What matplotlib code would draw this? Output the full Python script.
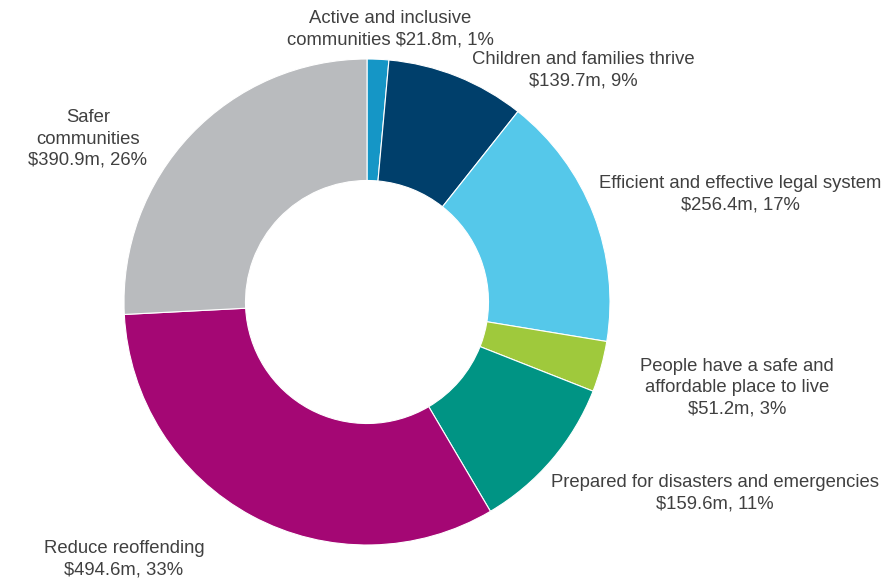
import matplotlib
matplotlib.use("Agg")
import matplotlib.pyplot as plt

# spending by outcome ($m), clockwise from the top
outcomes = ["Active and inclusive\ncommunities", "Children and families thrive",
            "Efficient and effective legal system",
            "People have a safe and\naffordable place to live",
            "Prepared for disasters and emergencies", "Reduce reoffending",
            "Safer\ncommunities"]
spend = [21.8, 139.7, 256.4, 51.2, 159.6, 494.6, 390.9]
shares = [1, 9, 17, 3, 11, 33, 26]
colors = ["#1596c6", "#003f6b", "#55c8ea", "#9fc93c", "#009484", "#a40774", "#b9bbbe"]

# label block centres in pixels (x, y from top)
label_pos = [(390, 29), (583, 70), (740, 194), (737, 388), (715, 493), (124, 559), (88, 139)]
# first label keeps the value on the same line as "communities"
same_line = [True, False, False, False, False, False, False]

W, H = 887, 580
plt.rcParams['font.family'] = ['Liberation Sans', 'DejaVu Sans']
fig = plt.figure(figsize=(W / 100, H / 100), dpi=100)
cx, cy, r = 367, 302, 243
ax = fig.add_axes([(cx - r) / W, (H - cy - r) / H, 2 * r / W, 2 * r / H])
ax.pie(spend, colors=colors, startangle=90, counterclock=False, radius=1,
       wedgeprops=dict(width=0.5, edgecolor="white", linewidth=0.8))
ax.set_xlim(-1, 1)
ax.set_ylim(-1, 1)
ax.set_aspect("equal")
ax.axis("off")

for name, v, s, (px, py), one in zip(outcomes, spend, shares, label_pos, same_line):
    sep = " " if one else "\n"
    txt = f"{name}{sep}${v}m, {s}%"
    fig.text(px / W, 1 - py / H, txt, ha="center", va="center", fontsize=13.3,
             color="#404040", linespacing=1.32, multialignment="center")

fig.savefig("out.png", dpi=100)
